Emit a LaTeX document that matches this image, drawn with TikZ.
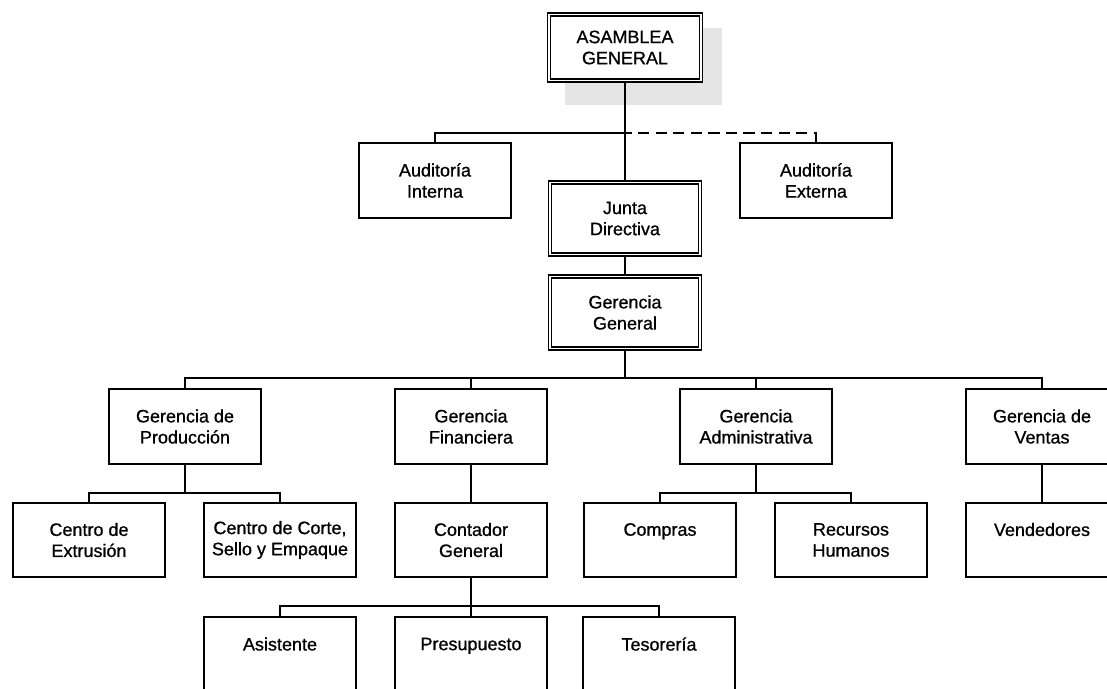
\documentclass[tikz,border=0pt]{standalone}
\usepackage{fontspec}
\setmainfont[FakeBold=0.8]{Liberation Sans}
\begin{document}
\begin{tikzpicture}[x=0.025cm, y=-0.025cm,
    box/.style={draw, line width=1.4pt, fill=white, minimum width=3.78cm, minimum height=1.87cm,
      inner sep=0pt, align=center, font=\fontsize{12.8}{15}\selectfont},
    dbox/.style={box, double, line width=1pt, double distance=1.4pt, minimum width=3.75cm, minimum height=1.8cm}]
    \clip (0,0) rectangle (1107,689);
    % sombra gris de la asamblea
    \fill[black!10] (565,28) rectangle (722,105);
    % cabeza
    \node[dbox, minimum width=3.8cm, minimum height=1.65cm] (asamblea) at (625,47.5) {ASAMBLEA\\GENERAL};
    \node[box] (audint) at (435,180.5) {Auditoría\\Interna};
    \node[box] (audext) at (816,180.5) {Auditoría\\Externa};
    \node[dbox] (junta) at (625,218.5) {Junta\\Directiva};
    \node[dbox] (gergen) at (625,312.5) {Gerencia\\General};
    % gerencias
    \node[box] (gprod) at (185,426.5) {Gerencia de\\Producción};
    \node[box] (gfin) at (471,426.5) {Gerencia\\Financiera};
    \node[box] (gadm) at (756,426.5) {Gerencia\\Administrativa};
    \node[box] (gven) at (1042,426.5) {Gerencia de\\Ventas};
    % departamentos
    \node[box] (extrusion) at (89,540) {Centro de\\Extrusión};
    \node[box] (corte) at (280,540) {Centro de Corte,\\Sello y Empaque};
    \node[box] (contador) at (471,540) {Contador\\General};
    \node[box] (compras) at (660,540) {Compras\\\mbox{}};
    \node[box] (rrhh) at (851,540) {Recursos\\Humanos};
    \node[box] (vendedores) at (1042,540) {Vendedores\\\mbox{}};
    \node[box] (asistente) at (280,654.5) {Asistente\\\mbox{}};
    \node[box] (presupuesto) at (471,654.5) {Presupuesto\\\mbox{}};
    \node[box] (tesoreria) at (659,654.5) {Tesorería\\\mbox{}};
    % conexiones
    \draw[line width=1.4pt, dash pattern=on 8pt off 4.5pt] (audext.north) -- ++(0,-9) -| (junta.north);
    \begin{scope}[line width=1.4pt]
      \draw (asamblea) -- (junta);
      \draw (audint.north) -- ++(0,-9) -| (junta.north);
      \draw (junta) -- (gergen);
      \foreach \n in {gprod,gfin,gadm,gven}
        \draw (\n.north) -- ++(0,-10) -| (gergen.south);
      \foreach \n in {extrusion,corte}
        \draw (\n.north) -- ++(0,-9) -| (gprod.south);
      \foreach \n in {compras,rrhh}
        \draw (\n.north) -- ++(0,-9) -| (gadm.south);
      \draw (gfin) -- (contador);
      \draw (gven) -- (vendedores);
      \foreach \n in {asistente,presupuesto,tesoreria}
        \draw (\n.north) -- ++(0,-10) -| (contador.south);
    \end{scope}
\end{tikzpicture}
\end{document}
